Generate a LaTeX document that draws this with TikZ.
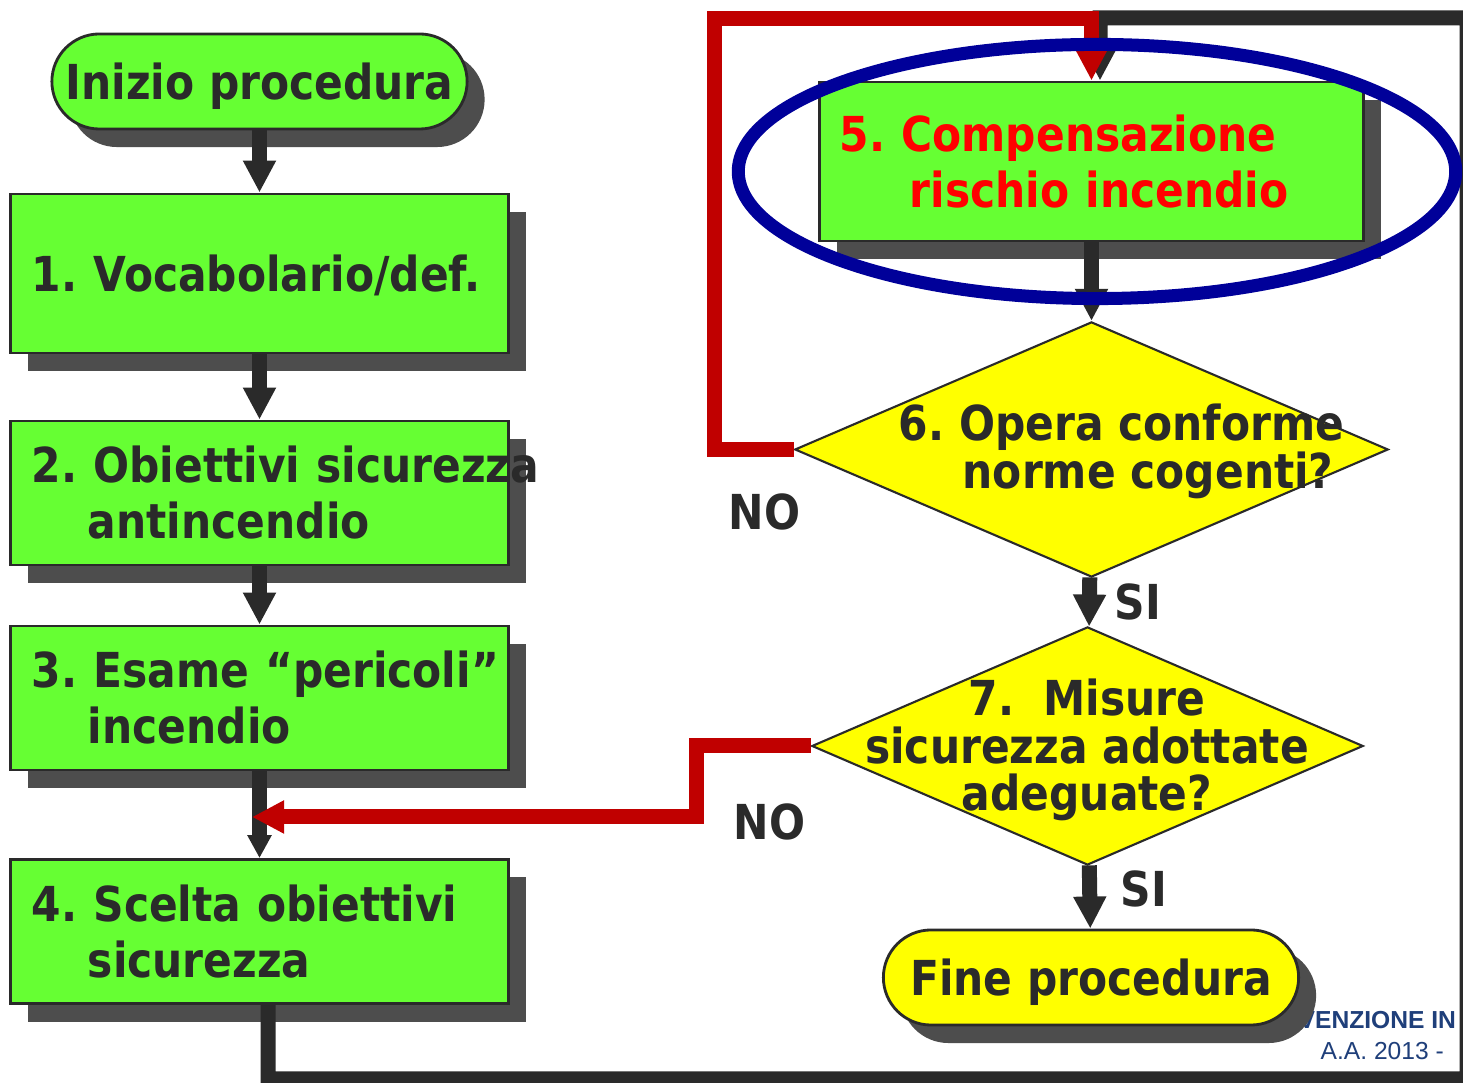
\documentclass[tikz,border=0pt]{standalone}
\usepackage{fontspec}
\setmainfont{DejaVu Sans}[FakeStretch=0.88]
\newfontfamily\footfont{Liberation Sans}
\usepackage{xcolor}
\usetikzlibrary{arrows.meta, shapes.geometric, shadows, positioning}
\definecolor{boxgreen}{RGB}{102,255,51}
\definecolor{decyellow}{RGB}{255,255,0}
\definecolor{dkgray}{RGB}{42,42,42}
\definecolor{shgray}{RGB}{77,77,77}
\definecolor{loopred}{RGB}{192,0,0}
\definecolor{txtred}{RGB}{255,0,0}
\definecolor{ringblue}{RGB}{0,0,153}
\definecolor{footblue}{RGB}{31,63,122}
\frenchspacing

\begin{document}
\begin{tikzpicture}[x=0.01cm, y=-0.01cm,
      sh/.style={drop shadow={shadow xshift=0.175cm, shadow yshift=-0.18cm, opacity=1, fill=shgray}},
      txt/.style={text=dkgray, font=\bfseries\fontsize{13.7}{15.9}\selectfont},
      box/.style={txt, draw=dkgray, line width=0.8pt, fill=boxgreen, sh, minimum height=1.44cm, text width=4.55cm, inner xsep=0.21cm, inner ysep=0pt, align=left},
      term/.style={txt, draw=dkgray, line width=0.8pt, rounded corners=0.475cm, sh, minimum width=4.15cm, minimum height=0.95cm, inner sep=0pt, text depth=0pt},
      dec/.style={diamond, draw=dkgray, line width=0.6pt, fill=decyellow, inner sep=0pt},
      dtxt/.style={txt, font=\bfseries\fontsize{13.7}{13.6}\selectfont, inner sep=0pt},
      lbl/.style={txt, inner sep=0pt, anchor=base west},
      foot/.style={text=footblue, inner sep=0pt, anchor=base west, font=\footfont\fontsize{7}{8}\selectfont},
      arr/.style={draw=dkgray, line width=0.15cm, -{Triangle[width=0.31cm, length=0.32cm]}},
      rarr/.style={draw=loopred, line width=0.15cm, -{Triangle[width=0.31cm, length=0.32cm]}}]
      \useasboundingbox (0,0) rectangle (1463,1083);
      \fill[white] (0,0) rectangle (1463,1083);
      \clip (0,0) rectangle (1463,1083);

      \draw node[foot, font=\footfont\bfseries\fontsize{7}{8}\selectfont] (ftitle) at (1298,1029) {VENZIONE IN};
      \draw node[foot] (fyear) at (1320,1060) {A.A. 2013 -};

      \draw node[term, fill=boxgreen] (start) at (259.5,81.5) {Inizio procedura};
      \draw node[box, minimum height=1.59cm, text depth=0pt] (s1) at (259.5,273.5) {\mbox{1. Vocabolario/def.}};
      \draw node[box] (s2) at (259.5,493) {\mbox{2. Obiettivi sicurezza}\\\hspace*{0.56cm}antincendio};
      \draw node[box] (s3) at (259.5,698) {\mbox{3. Esame “pericoli”}\\\hspace*{0.56cm}incendio};
      \draw node[box] (s4) at (259.5,931.5) {\mbox{4. Scelta obiettivi}\\\hspace*{0.56cm}sicurezza};
      \draw node[box, text=txtred, minimum height=1.59cm, text width=5.03cm, inner xsep=0.20cm] (s5) at (1091.5,161.5) {\mbox{5. Compensazione}\\\hspace*{0.70cm}rischio incendio};

      \draw node[dec, minimum width=5.93cm, minimum height=2.55cm] (d6) at (1091.5,449.5) {};
      \draw node[dtxt, align=left, anchor=west] (d6t) at (898,451.5) {6. Opera conforme\\\hspace*{0.64cm}norme cogenti?};
      \draw node[dec, minimum width=5.51cm, minimum height=2.38cm] (d7) at (1087.5,746) {};
      \draw node[dtxt, align=center] (d7t) at (1087,750) {7.~~Misure\\sicurezza adottate\\adeguate?};
      \draw node[term, fill=decyellow] (fine) at (1091,977.5) {Fine procedura};

      \draw node[lbl] (no6) at (728,530) {NO};
      \draw node[lbl] (si6) at (1114,620) {SI};
      \draw node[lbl] (no7) at (733,840) {NO};
      \draw node[lbl] (si7) at (1120,907) {SI};

      \draw[arr] (start) -- (s1);
      \draw[arr] (s1) -- (s2);
      \draw[arr] (s2) -- (s3);
      \draw[arr, -{Triangle[width=0.23cm, length=0.23cm]}] (s3) -- (s4);
      \draw[arr] (s5) -- (d6);
      \draw[arr] (d6) -- (d7);
      \draw[arr] (d7) -- (fine);

      \coordinate (out4) at (1467,1079);
      \coordinate (top5) at (1100,18);
      \draw[arr] ([xshift=0.085cm]s4.south) |- (out4) |- (top5) -- ([xshift=0.085cm]s5.north);

      \coordinate (bend6) at (714,19);
      \draw[rarr] (d6.west) -| (bend6) -| (s5.north);

      \coordinate (bend7) at (696,817);
      \coordinate (merge) at (252,817);
      \draw[rarr] (d7.west) -| (bend7) -- (merge);

      \draw node[ellipse, draw=ringblue, line width=0.13cm, minimum width=7.17cm, minimum height=2.54cm, inner sep=0pt] (ring) at (1097,171.5) {};
    \end{tikzpicture}
\end{document}
